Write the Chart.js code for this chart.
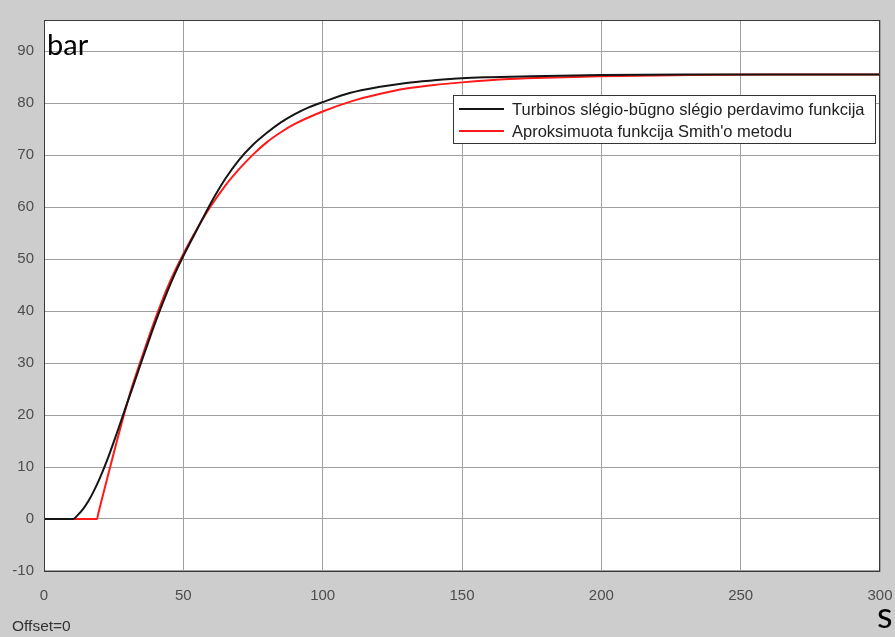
<!DOCTYPE html>
<html>
<head>
<meta charset="utf-8">
<script src="https://cdn.jsdelivr.net/npm/chart.js@4"></script>
<style>
  html, body { margin: 0; padding: 0; background: #cdcdcd; }
  #wrap { width: 895px; height: 637px; }
</style>
</head>
<body>
<div id="wrap"><canvas id="scope" width="895" height="637"></canvas></div>
<script>
// axis ticks
const xTicks = [0, 50, 100, 150, 200, 250, 300];
const yTicks = [-10, 0, 10, 20, 30, 40, 50, 60, 70, 80, 90];

const seriesLabels = [
  "Turbinos slégio-būgno slégio perdavimo funkcija",
  "Aproksimuota funkcija Smith'o metodu"
];

// measured response (black)
const blackT = [0, 10.5, 12, 14, 16, 18, 20, 23, 26, 29, 32, 35, 38, 41, 44, 47, 50, 55, 60, 65,
  70, 75, 80, 85, 90, 95, 100, 110, 120, 130, 140, 150, 160, 175, 200, 230, 260, 300];
const blackY = [0, 0, 0.7, 1.9, 3.5, 5.5, 7.8, 11.8, 16.3, 21.0, 25.6, 30.3, 34.9, 39.3, 43.4, 47.2, 50.6, 55.8, 60.9, 65.4,
  69.1, 72.0, 74.3, 76.3, 77.9, 79.2, 80.2, 82.0, 83.1, 83.9, 84.4, 84.8, 85.0, 85.2, 85.4, 85.5, 85.5, 85.5];

// first order + dead time approximation (red)
const redT = [0, 19, 19.5, 22, 25, 28, 31, 35, 40, 45, 50, 55, 60, 65, 70, 75, 80, 85, 90, 100,
  110, 120, 130, 140, 150, 165, 180, 200, 230, 260, 300];
const redY = [0, 0, 1.1, 6.4, 12.6, 18.7, 24.4, 30.9, 38.6, 45.4, 51.0, 55.9, 60.3, 64.1, 67.3, 70.1, 72.5, 74.4, 76.0, 78.4,
  80.3, 81.7, 82.8, 83.5, 84.0, 84.6, 84.9, 85.2, 85.4, 85.5, 85.5];

const toPoints = (ts, ys) => ts.map((t, i) => ({ x: t, y: ys[i] }));

const tickFont = { family: "'Liberation Sans', Arial, sans-serif", size: 15 };

// gray figure, white axes box, frame, unit labels and legend box
const scopeFrame = {
  id: "scopeFrame",
  beforeDraw(chart) {
    const { ctx, chartArea: a } = chart;
    ctx.save();
    ctx.fillStyle = "#cdcdcd";
    ctx.fillRect(0, 0, chart.width, chart.height);
    ctx.fillStyle = "#ffffff";
    ctx.fillRect(a.left, a.top, a.right - a.left, a.bottom - a.top);
    ctx.restore();
  },
  afterDraw(chart) {
    const { ctx, chartArea: a } = chart;
    ctx.save();
    ctx.strokeStyle = "#3a3a3a";
    ctx.lineWidth = 1;
    ctx.strokeRect(a.left + 0.5, a.top + 0.5, a.right - a.left - 1, a.bottom - a.top - 1);

    ctx.fillStyle = "#000";
    ctx.font = "29px Lato, sans-serif";
    ctx.textBaseline = "alphabetic";
    ctx.textAlign = "left";
    ctx.fillText("bar", a.left + 3, 55);
    ctx.font = "36px Lato, sans-serif";
    ctx.fillText("s", 877, 628);

    ctx.fillStyle = "#333";
    ctx.font = "15.5px 'Liberation Sans', Arial, sans-serif";
    ctx.fillText("Offset=0", 12, 631);

    // legend
    const lx = 453, ly = 95, lw = 422, lh = 48;
    ctx.fillStyle = "#fff";
    ctx.fillRect(lx, ly, lw, lh);
    ctx.strokeStyle = "#333";
    ctx.strokeRect(lx + 0.5, ly + 0.5, lw, lh);
    ctx.font = "16.5px 'Liberation Sans', Arial, sans-serif";
    ctx.textBaseline = "middle";
    chart.data.datasets.forEach((ds, i) => {
      const y = ly + 14 + i * 22;
      ctx.strokeStyle = ds.borderColor;
      ctx.lineWidth = 2;
      ctx.beginPath();
      ctx.moveTo(lx + 6, y);
      ctx.lineTo(lx + 51, y);
      ctx.stroke();
      ctx.fillStyle = "#222";
      ctx.fillText(ds.label, lx + 59, y + 1);
    });
    ctx.restore();
  }
};

new Chart(document.getElementById("scope"), {
  type: "line",
  data: {
    datasets: [
      {
        label: seriesLabels[0],
        data: toPoints(blackT, blackY),
        borderColor: "#151515",
        borderWidth: 2,
        pointRadius: 0,
        cubicInterpolationMode: "monotone"
      },
      {
        label: seriesLabels[1],
        data: toPoints(redT, redY),
        borderColor: "#ff1a1a",
        borderWidth: 2,
        pointRadius: 0,
        cubicInterpolationMode: "monotone"
      }
    ]
  },
  options: {
    responsive: false,
    animation: false,
    layout: { padding: { top: 20, right: 15, left: 0, bottom: 0 } },
    plugins: { legend: { display: false }, tooltip: { enabled: false } },
    scales: {
      x: {
        type: "linear",
        min: 0,
        max: 300,
        afterBuildTicks: (s) => { s.ticks = xTicks.map((v) => ({ value: v })); },
        afterFit: (s) => { s.height = 65; s.paddingLeft = 0; s.paddingRight = 0; },
        ticks: { color: "#4d4d4d", font: tickFont, padding: 15, maxRotation: 0, autoSkip: false },
        grid: { color: "#a0a0a0", drawTicks: false },
        border: { display: false }
      },
      y: {
        min: -10.2,
        max: 96,
        afterBuildTicks: (s) => { s.ticks = yTicks.map((v) => ({ value: v })); },
        afterFit: (s) => { s.width = 44; s.paddingTop = 0; s.paddingBottom = 0; },
        ticks: { color: "#4d4d4d", font: tickFont, padding: 10, autoSkip: false },
        grid: { color: "#a0a0a0", drawTicks: false },
        border: { display: false }
      }
    }
  },
  plugins: [scopeFrame]
});
</script>
</body>
</html>
